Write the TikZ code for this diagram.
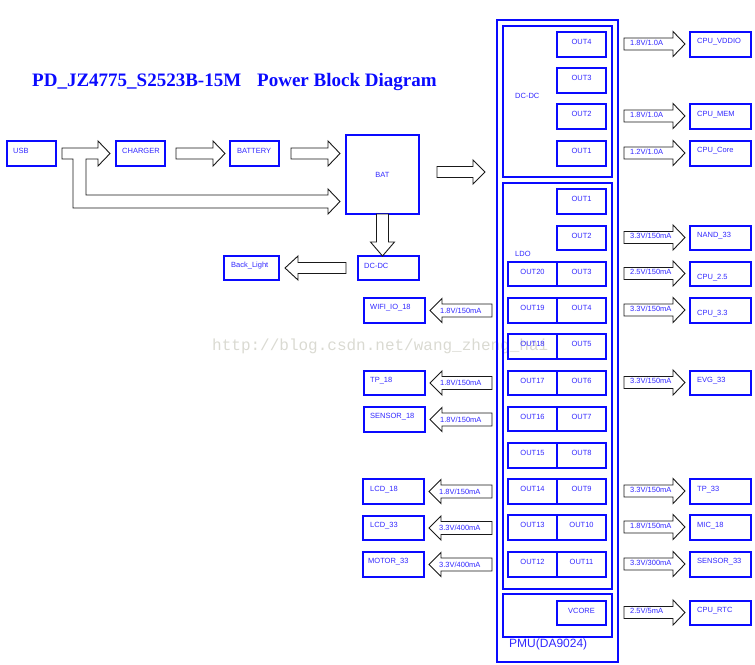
\documentclass[tikz,border=0pt]{standalone}
\usepackage{fontspec}
\setmainfont{Liberation Sans}
\newfontfamily\titleserif{Liberation Serif}
\newfontfamily\wmmono{Liberation Mono}
\usetikzlibrary{calc,fit}
\definecolor{tblue}{RGB}{50,40,255}
\definecolor{lblue}{RGB}{10,10,255}
\definecolor{wmgray}{RGB}{218,218,210}
\tikzset{
 box/.style={draw=lblue, line width=1.6pt, inner sep=0pt, outer sep=0pt},
 txt/.style={text=tblue, font=\fontsize{7.5}{8}\selectfont, inner sep=0pt},
 fatline/.style={draw=black!90, line width=0.9pt, fill=white, line join=miter},
}
% name, x1, y1, x2, y2, text, dx, dy
\newcommand\bxw[8]{\node[box, fit={(#2,#3)(#4,#5)}] (#1) {};
  \node[txt, anchor=west] (#1-l) at ($(#1.north west)+(#7,#8)$) {#6};}
% name, x1, y1, x2, y2, text (centred)
\newcommand\bxc[6]{\node[box, fit={(#2,#3)(#4,#5)}] (#1) {};
  \node[txt] (#1-l) at ($(#1.north)+(0,10)$) {#6};}
% tail, tip, shaft half, head half, signed head length
\newcommand\fatarrow[5]{\draw[fatline] ([yshift=#3]#1) -- ([xshift=#5,yshift=#3]#2) -- ([xshift=#5,yshift=#4]#2) -- (#2) -- ([xshift=#5,yshift=-#4]#2) -- ([xshift=#5,yshift=-#3]#2) -- ([yshift=-#3]#1) -- cycle;}
\newcommand\rarr[2]{%
 \coordinate (#1-t) at ($(pmu.east |- #1.west)+(6,-0.5)$);
 \coordinate (#1-h) at ($(#1.west)+(-5,-0.5)$);
 \fatarrow{#1-t}{#1-h}{6pt}{12.5pt}{-12pt}
 \node[txt,anchor=west] (#1-v) at ($(#1-t)+(6,-1.5)$) {#2};}
\newcommand\larr[2]{%
 \coordinate (#1-t) at ($(pmu.west |- #1.east)+(-5,0)$);
 \coordinate (#1-h) at ($(#1.east)+(5,0)$);
 \fatarrow{#1-t}{#1-h}{6.5pt}{12pt}{12pt}
 \node[txt,anchor=west] (#1-v) at ($(#1-h)+(10,0)$) {#2};}
\begin{document}
\begin{tikzpicture}[x=1pt,y=-1pt]
\useasboundingbox (0,0) rectangle (755,664);
% watermark
\node[font=\wmmono\fontsize{16}{16}\selectfont, text=wmgray, anchor=base west, inner sep=0pt] (wm) at (212,350) {http://blog.csdn.net/wang\_zheng\_hai};
% title
\node[font=\titleserif\bfseries\fontsize{19}{19}\selectfont, text=lblue, anchor=base west, inner sep=0pt] (title) at (32,86) {PD\_JZ4775\_S2523B-15M\hspace{16pt}Power Block Diagram};

% left part
\bxw{usb}{7}{141}{56}{166}{USB}{6}{10}
\bxw{charger}{116}{141}{165}{166}{CHARGER}{6}{10}
\bxw{battery}{230}{141}{279}{166}{BATTERY}{7}{10}
\node[box, fit={(346,135)(419,214)}] (bat) {};
\node[txt] (bat-l) at (bat.center) {BAT};
\bxw{dcdcl}{358}{256}{419}{280}{DC-DC}{6}{10}
\bxw{backlight}{224}{256}{279}{280}{Back\_Light}{7}{10}
\bxw{wifi}{364}{298}{425}{323}{WIFI\_IO\_18}{6}{10}
\bxw{tpe}{364}{371}{425}{395}{TP\_18}{6}{10}
\bxw{sense}{364}{407}{425}{432}{SENSOR\_18}{6}{10}
\bxw{lcde}{363}{479}{424}{504}{LCD\_18}{7}{11}
\bxw{lcdt}{363}{516}{424}{540}{LCD\_33}{7}{10}
\bxw{motor}{363}{552}{424}{577}{MOTOR\_33}{5}{10}

% PMU
\node[box, fit={(497,20)(618,662)}] (pmu) {};
\node[box, fit={(503,26)(612,177)}] (dcin) {};
\node[txt, anchor=west] (dcin-l) at (515,96) {DC-DC};
\node[box, fit={(503,183)(612,589)}] (ldoin) {};
\node[txt, anchor=west] (ldoin-l) at (515,254) {LDO};
\node[box, fit={(503,594)(612,637)}] (vcin) {};
\node[text=tblue, font=\fontsize{12}{12}\selectfont, inner sep=0pt, anchor=west] (pmu-l) at (509,644) {PMU(DA9024)};

\bxc{dfour}{557}{32}{606}{57}{OUT4}
\bxc{dthree}{557}{68}{606}{93}{OUT3}
\bxc{dtwo}{557}{104}{606}{129}{OUT2}
\bxc{done}{557}{141}{606}{166}{OUT1}

\bxc{la}{557}{189}{606}{214}{OUT1}
\bxc{lb}{557}{226}{606}{250}{OUT2}
\bxc{lc}{557}{262}{606}{286}{OUT3}
\bxc{ld}{557}{298}{606}{323}{OUT4}
\bxc{le}{557}{334}{606}{359}{OUT5}
\bxc{lf}{557}{371}{606}{395}{OUT6}
\bxc{lg}{557}{407}{606}{431}{OUT7}
\bxc{lh}{557}{443}{606}{468}{OUT8}
\bxc{li}{557}{479}{606}{504}{OUT9}
\bxc{lj}{557}{515}{606}{540}{OUT10}
\bxc{lk}{557}{552}{606}{577}{OUT11}
\bxc{lt}{508}{262}{557}{286}{OUT20}
\bxc{ls}{508}{298}{557}{323}{OUT19}
\bxc{lr}{508}{334}{557}{359}{OUT18}
\bxc{lq}{508}{371}{557}{395}{OUT17}
\bxc{lp}{508}{407}{557}{431}{OUT16}
\bxc{lo}{508}{443}{557}{468}{OUT15}
\bxc{ln}{508}{479}{557}{504}{OUT14}
\bxc{lm}{508}{515}{557}{540}{OUT13}
\bxc{ll}{508}{552}{557}{577}{OUT12}
\bxc{vcore}{557}{601}{606}{625}{VCORE}

% right boxes
\bxw{cpuvddio}{690}{32}{751}{57}{CPU\_VDDIO}{7}{10}
\bxw{cpumem}{690}{104}{751}{129}{CPU\_MEM}{7}{11}
\bxw{cpucore}{690}{141}{751}{166}{CPU\_Core}{7}{10}
\bxw{nand}{690}{226}{751}{250}{NAND\_33}{7}{10}
\bxw{cputwofive}{690}{262}{751}{286}{CPU\_2.5}{7}{16}
\bxw{cputhree}{690}{298}{751}{323}{CPU\_3.3}{7}{16}
\bxw{evg}{690}{371}{751}{395}{EVG\_33}{7}{10}
\bxw{tpt}{690}{479}{751}{504}{TP\_33}{7}{11}
\bxw{mic}{690}{515}{751}{540}{MIC\_18}{7}{11}
\bxw{senst}{690}{552}{751}{577}{SENSOR\_33}{7}{10}
\bxw{rtc}{690}{601}{751}{625}{CPU\_RTC}{7}{10}

% arrows right
\rarr{cpuvddio}{1.8V/1.0A}
\rarr{cpumem}{1.8V/1.0A}
\rarr{cpucore}{1.2V/1.0A}
\rarr{nand}{3.3V/150mA}
\rarr{cputwofive}{2.5V/150mA}
\rarr{cputhree}{3.3V/150mA}
\rarr{evg}{3.3V/150mA}
\rarr{tpt}{3.3V/150mA}
\rarr{mic}{1.8V/150mA}
\rarr{senst}{3.3V/300mA}
\rarr{rtc}{2.5V/5mA}

% arrows left
\larr{wifi}{1.8V/150mA}
\larr{tpe}{1.8V/150mA}
\larr{sense}{1.8V/150mA}
\larr{lcde}{1.8V/150mA}
\larr{lcdt}{3.3V/400mA}
\larr{motor}{3.3V/400mA}

% top chain
\draw[fatline] let \p1=(usb.east), \p2=(charger.west), \p3=(bat.west) in
  (\x1+6pt,\y1+5.5pt) -- (\x2-18pt,\y1+5.5pt) -- (\x2-18pt,\y1+12.5pt) -- (\x2-6pt,\y1)
  -- (\x2-18pt,\y1-12.5pt) -- (\x2-18pt,\y1-5.5pt) -- (\x1+30pt,\y1-5.5pt)
  -- (\x1+30pt,\y3-20.5pt) -- (\x3-18pt,\y3-20.5pt) -- (\x3-18pt,\y3-14.5pt)
  -- (\x3-6pt,\y3-27pt) -- (\x3-18pt,\y3-39.5pt) -- (\x3-18pt,\y3-33.5pt)
  -- (\x1+17pt,\y3-33.5pt) -- (\x1+17pt,\y1-5.5pt) -- (\x1+6pt,\y1-5.5pt) -- cycle;
\coordinate (cb-t) at ($(charger.east)+(11,0)$);
\coordinate (cb-h) at ($(battery.west)+(-5,0)$);
\fatarrow{cb-t}{cb-h}{5.5pt}{12.5pt}{-12pt}
\coordinate (bb-t) at ($(battery.east)+(12,0)$);
\coordinate (bb-h) at ($(bat.west |- battery.east)+(-6,0)$);
\fatarrow{bb-t}{bb-h}{5.5pt}{12.5pt}{-12pt}
\coordinate (bp-t) at ($(bat.east)+(18,-2.5)$);
\coordinate (bp-h) at ($(pmu.west |- bp-t)+(-12,0)$);
\fatarrow{bp-t}{bp-h}{5.5pt}{12pt}{-12pt}
\coordinate (dl-t) at ($(dcdcl.west)+(-12,0)$);
\coordinate (dl-h) at ($(backlight.east)+(6,0)$);
\fatarrow{dl-t}{dl-h}{5.5pt}{12pt}{13pt}
% BAT down to DC-DC
\coordinate (vt) at (bat.south);
\coordinate (vh) at (bat.south |- dcdcl.north);
\draw[fatline] ([xshift=-6pt]vt) -- ([xshift=-6pt,yshift=14pt]vh) -- ([xshift=-12pt,yshift=14pt]vh) -- (vh)
  -- ([xshift=12pt,yshift=14pt]vh) -- ([xshift=6pt,yshift=14pt]vh) -- ([xshift=6pt]vt) -- cycle;
\end{tikzpicture}
\end{document}
